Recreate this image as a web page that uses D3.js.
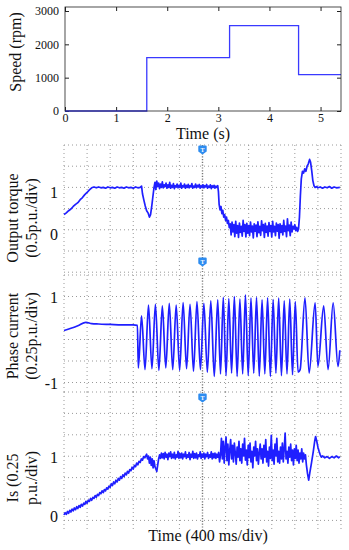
<!DOCTYPE html>
<html>
<head>
<meta charset="utf-8">
<script src="https://cdn.jsdelivr.net/npm/d3@7"></script>
<style>
  body { margin: 0; background: #fff; }
  svg { display: block; }
  text { font-family: "Liberation Serif", "DejaVu Serif", serif; fill: #111; }
</style>
</head>
<body>
<svg id="chart" width="349" height="550"></svg>
<script>
// ---- speed reference (top plot) ----
const speedTime = [0, 1.6, 3.22, 4.57, 5.4];
const speedRpm = [0, 1600, 2560, 1090, 1090];
const speedTicksX = [0, 1, 2, 3, 4, 5];
const speedTicksY = [0, 1000, 2000, 3000];

// ---- scope traces, time in divisions (400 ms/div) ----
const torqueTicks = [0, 1];
const phaseTicks = [-1, 1];
const isTicks = [0, 1];

const torqueTrace = [
  [0,0.36],[0.1,0.40],[0.2,0.45],[0.3,0.49],[0.4,0.55],[0.5,0.60],[0.6,0.64],[0.7,0.71],[0.8,0.76],[0.9,0.83],
  [1.0,0.88],[1.1,0.94],[1.2,0.99],[1.3,1.01],[1.4,0.99],[1.5,1.01],[1.6,0.99],[1.7,1.00],[1.8,0.98],[1.9,1.01],
  [2.0,0.99],[2.1,1.00],[2.2,0.98],[2.3,1.01],[2.4,0.99],[2.5,1.00],[2.6,0.98],[2.7,1.01],[2.8,0.99],[2.9,1.00],
  [3.0,0.98],[3.1,1.01],[3.2,0.99],[3.3,1.00],[3.36,1.03],[3.40,0.85],[3.46,0.70],[3.52,0.56],[3.58,0.45],[3.64,0.40],
  [3.70,0.30],[3.75,0.36],[3.80,0.55],[3.85,0.78],[3.90,1.00],[3.94,1.12],[3.98,0.95],[4.02,1.15],[4.06,1.02],[4.10,1.10],
  [4.14,0.97],[4.18,1.08],[4.22,1.00],[4.26,1.13],[4.30,0.99],[4.34,1.06],[4.38,1.02],[4.42,1.10],[4.46,0.98],[4.50,1.06],
  [4.54,1.00],[4.58,1.12],[4.62,0.98],[4.66,1.05],[4.70,1.00],[4.74,1.09],[4.78,0.97],[4.82,1.04],[4.86,1.01],[4.90,1.08],
  [4.94,0.99],[4.98,1.05],[5.02,1.00],[5.06,1.10],[5.10,0.98],[5.14,1.04],[5.18,1.01],[5.22,1.08],[5.26,0.98],[5.30,1.05],
  [5.34,1.00],[5.38,1.07],[5.42,0.99],[5.46,1.04],[5.50,1.01],[5.54,1.09],[5.58,0.98],[5.62,1.03],[5.66,1.00],[5.70,1.08],
  [5.74,0.99],[5.78,1.05],[5.82,1.01],[5.86,1.07],[5.90,0.98],[5.94,1.04],[5.98,1.00],[6.02,1.06],[6.06,0.99],[6.10,1.04],
  [6.14,1.01],[6.18,1.07],[6.22,0.98],[6.26,1.03],[6.30,1.00],[6.34,1.06],[6.38,0.97],[6.42,1.04],[6.46,1.00],[6.50,1.05],
  [6.54,0.98],[6.58,1.03],[6.62,1.00],[6.66,1.04],[6.69,0.90],[6.72,0.60],[6.76,0.47],[6.80,0.55],[6.84,0.38],[6.88,0.46],
  [6.92,0.30],[6.96,0.36],[7.00,0.22],[7.04,0.30],[7.08,0.15],[7.12,0.22],[7.16,0.05],[7.20,0.14],[7.24,-0.12],[7.28,0.18],
  [7.32,-0.05],[7.36,0.12],[7.40,-0.16],[7.44,0.20],[7.48,-0.08],[7.52,0.10],[7.56,-0.18],[7.60,0.16],[7.64,-0.06],[7.68,0.08],
  [7.72,-0.15],[7.76,0.22],[7.80,-0.04],[7.84,0.12],[7.88,-0.17],[7.92,0.15],[7.96,-0.08],[8.00,0.10],[8.04,-0.14],[8.08,0.18],
  [8.12,-0.05],[8.16,0.09],[8.20,-0.19],[8.24,0.14],[8.28,-0.03],[8.32,0.11],[8.36,-0.16],[8.40,0.19],[8.44,-0.07],[8.48,0.08],
  [8.52,-0.13],[8.56,0.21],[8.60,-0.02],[8.64,0.12],[8.68,-0.18],[8.72,0.15],[8.76,-0.06],[8.80,0.09],[8.84,-0.15],[8.88,0.17],
  [8.92,-0.04],[8.96,0.10],[9.00,-0.17],[9.04,0.20],[9.08,-0.05],[9.12,0.08],[9.16,-0.14],[9.20,0.16],[9.24,-0.03],[9.28,0.12],
  [9.32,-0.20],[9.36,0.14],[9.40,-0.06],[9.44,0.10],[9.48,-0.12],[9.52,0.22],[9.56,-0.04],[9.60,0.09],[9.64,-0.16],[9.68,0.26],
  [9.72,-0.02],[9.76,0.11],[9.80,-0.14],[9.84,0.18],[9.88,-0.05],[9.92,0.08],[9.96,0.02],[10.00,0.12],[10.04,-0.02],[10.08,0.06],
  [10.12,-0.04],[10.16,0.02],[10.20,0.30],[10.24,0.80],[10.28,1.20],[10.33,1.38],[10.38,1.34],[10.43,1.44],[10.48,1.38],[10.53,1.50],
  [10.58,1.55],[10.64,1.66],[10.68,1.60],[10.73,1.40],[10.78,1.16],[10.83,1.04],[10.88,1.00],[10.95,1.02],[11.0,0.99],[11.1,1.01],
  [11.2,0.98],[11.3,1.01],[11.4,0.99],[11.5,1.02],[11.6,0.98],[11.7,1.01],[11.8,0.99],[11.95,1.00]
];

// peaks and troughs of the phase current
const phaseTrace = [
  [0,0.21],[0.3,0.26],[0.6,0.32],[0.95,0.40],[1.2,0.37],[1.5,0.36],[2.0,0.35],[2.5,0.34],[3.0,0.34],[3.18,0.33],
  [3.22,-0.66],[3.36,0.55],[3.51,-0.70],[3.66,0.80],[3.81,-0.68],[3.96,0.82],[4.11,-0.72],[4.26,0.78],[4.41,-0.66],[4.56,0.84],
  [4.71,-0.70],[4.86,0.80],[5.01,-0.72],[5.16,0.86],[5.31,-0.68],[5.46,0.82],[5.61,-0.74],[5.76,0.88],[5.91,-0.70],[6.06,0.84],
  [6.21,-0.76],[6.36,0.90],[6.51,-0.86],[6.66,0.92],
  [6.78,-0.80],[6.90,0.98],[7.02,-0.84],[7.14,0.95],[7.26,-0.78],[7.38,1.00],[7.50,-0.86],[7.62,0.94],[7.74,-0.80],[7.86,1.04],
  [7.98,-0.84],[8.10,0.96],[8.22,-0.78],[8.34,0.98],[8.46,-0.85],[8.58,0.92],[8.70,-0.80],[8.82,0.97],[8.94,-0.86],[9.06,0.93],
  [9.18,-0.78],[9.30,0.96],[9.42,-0.84],[9.54,0.90],[9.66,-0.80],[9.78,0.94],[9.90,-0.82],[10.02,0.88],[10.14,-0.76],
  [10.23,-0.70],[10.44,0.97],[10.62,-0.78],[10.88,0.85],[11.0,-0.63],[11.25,0.78],[11.44,-0.70],[11.66,0.85],[11.87,-0.63],[11.95,-0.25]
];

const isTrace = [
  [0,0.0],[0.05,0.04],[0.1,0.01],[0.15,0.06],[0.2,0.03],[0.25,0.08],[0.3,0.05],[0.35,0.10],[0.4,0.07],[0.45,0.12],
  [0.5,0.09],[0.55,0.14],[0.6,0.11],[0.65,0.16],[0.7,0.13],[0.75,0.18],[0.8,0.15],[0.85,0.20],[0.9,0.18],[0.95,0.23],
  [1.0,0.20],[1.05,0.25],[1.1,0.23],[1.15,0.28],[1.2,0.25],[1.25,0.30],[1.3,0.28],[1.35,0.33],[1.4,0.30],[1.45,0.35],
  [1.5,0.33],[1.55,0.38],[1.6,0.36],[1.65,0.41],[1.7,0.38],[1.75,0.43],[1.8,0.41],[1.85,0.46],[1.9,0.44],[1.95,0.49],
  [2.0,0.47],[2.05,0.53],[2.1,0.50],[2.15,0.56],[2.2,0.53],[2.25,0.59],[2.3,0.56],[2.35,0.62],[2.4,0.59],[2.45,0.65],
  [2.5,0.62],[2.55,0.68],[2.6,0.65],[2.65,0.71],[2.7,0.68],[2.75,0.74],[2.8,0.71],[2.85,0.77],[2.9,0.75],[2.95,0.81],
  [3.0,0.78],[3.05,0.84],[3.1,0.82],[3.15,0.88],[3.2,0.85],[3.25,0.91],[3.3,0.89],[3.35,0.95],[3.4,0.93],[3.45,0.99],
  [3.5,0.97],[3.58,1.03],[3.62,0.95],[3.66,1.0],[3.70,0.88],
  [3.74,0.98],[3.78,0.84],[3.82,0.95],[3.86,0.80],[3.90,0.92],[3.94,0.82],[3.98,0.78],[4.02,0.74],[4.06,0.85],[4.10,0.95],
  [4.14,1.02],[4.18,0.96],[4.22,1.05],[4.26,0.97],[4.30,1.04],[4.34,0.95],[4.38,1.06],[4.42,0.98],[4.46,1.03],[4.50,0.94],
  [4.54,1.05],[4.58,0.99],[4.62,1.07],[4.66,0.96],[4.70,1.03],[4.74,0.97],[4.78,1.06],[4.82,0.95],[4.86,1.02],[4.90,0.98],
  [4.94,1.08],[4.98,0.96],[5.02,1.04],[5.06,0.97],[5.10,1.05],[5.14,0.95],[5.18,1.03],[5.22,0.99],[5.26,1.07],[5.30,0.96],
  [5.34,1.02],[5.38,0.98],[5.42,1.06],[5.46,0.94],[5.50,1.03],[5.54,0.98],[5.58,1.08],[5.62,0.96],[5.66,1.04],[5.70,0.97],
  [5.74,1.05],[5.78,0.95],[5.82,1.02],[5.86,0.99],[5.90,1.07],[5.94,0.96],[5.98,1.03],[6.02,0.98],[6.06,1.05],[6.10,0.95],
  [6.14,1.03],[6.18,0.99],[6.22,1.06],[6.26,0.96],[6.30,1.02],[6.34,0.98],[6.38,1.07],[6.42,0.95],[6.46,1.04],[6.50,0.97],
  [6.54,1.05],[6.58,0.96],[6.62,1.03],[6.66,0.98],[6.70,1.06],[6.74,0.90],[6.78,1.02],[6.82,1.30],[6.86,0.95],[6.90,1.25],
  [6.94,0.88],[6.98,1.15],[7.02,1.32],[7.06,0.92],[7.10,1.20],[7.14,0.85],[7.18,1.10],[7.22,1.28],[7.26,0.95],[7.30,1.18],
  [7.34,0.90],[7.38,1.22],[7.42,1.05],[7.46,0.86],[7.50,1.15],[7.54,0.98],[7.58,1.25],[7.62,0.92],[7.66,1.12],[7.70,0.88],
  [7.74,1.20],[7.78,1.00],[7.82,1.30],[7.86,0.93],[7.90,1.10],[7.94,0.85],[7.98,1.18],[8.02,0.97],[8.06,1.22],[8.10,0.90],
  [8.14,1.08],[8.18,0.80],[8.22,1.15],[8.26,1.00],[8.30,1.25],[8.34,0.92],[8.38,1.12],[8.42,0.86],[8.46,1.05],[8.50,1.20],
  [8.54,0.95],[8.58,1.12],[8.62,0.88],[8.66,1.18],[8.70,0.98],[8.74,1.28],[8.78,0.90],[8.82,1.08],[8.86,0.83],[8.90,1.15],
  [8.94,0.96],[8.98,1.35],[9.02,0.92],[9.06,1.10],[9.10,0.86],[9.14,1.20],[9.18,1.00],[9.22,1.30],[9.26,0.90],[9.30,1.08],
  [9.34,0.88],[9.38,1.15],[9.42,0.95],[9.46,1.22],[9.50,0.90],[9.54,1.12],[9.58,1.39],[9.62,0.95],[9.66,1.08],[9.70,0.88],
  [9.74,1.15],[9.78,0.98],[9.82,1.20],[9.86,0.92],[9.90,1.10],[9.94,0.85],[9.98,1.12],[10.02,0.96],[10.06,1.18],[10.10,0.92],
  [10.14,1.10],[10.18,0.88],[10.22,1.05],[10.26,0.95],[10.30,1.12],[10.34,0.90],[10.38,1.05],[10.42,0.95],[10.46,1.02],[10.50,0.85],
  [10.55,0.70],[10.60,0.59],[10.65,0.72],[10.72,0.88],[10.80,1.08],[10.86,1.25],[10.90,1.33],[10.95,1.25],[11.0,1.15],[11.05,1.08],
  [11.10,1.02],[11.15,0.98],[11.2,1.0],[11.3,0.97],[11.4,0.99],[11.5,0.96],[11.6,0.99],[11.7,0.97],[11.8,1.00],[11.9,0.97],[11.95,0.99]
];

const svg = d3.select("#chart");
const blue = "#1f1fff";

// ================= speed plot =================
const sx = d3.scaleLinear().domain([0, 5.4]).range([65, 341]);
const sy = d3.scaleLinear().domain([0, 3120]).range([111, 7]);

const speedG = svg.append("g").attr("class", "speed");

function cleanAxis(g) {
  g.select(".domain").remove();
  g.selectAll("line").attr("stroke", "#222");
  g.selectAll("text").attr("font-family", "Liberation Serif").attr("font-size", 12).attr("fill", "#111");
}

speedG.append("g").attr("transform", "translate(0,111)")
  .call(d3.axisBottom(sx).tickValues(speedTicksX).tickSize(-4).tickPadding(2).tickFormat(d3.format("d")))
  .call(cleanAxis);
speedG.append("g").attr("transform", "translate(0,7)")
  .call(d3.axisTop(sx).tickValues(speedTicksX).tickSize(-4).tickFormat(""))
  .call(cleanAxis);
speedG.append("g").attr("transform", "translate(65,0)")
  .call(d3.axisLeft(sy).tickValues(speedTicksY).tickSize(-4).tickPadding(6).tickFormat(d3.format("d")))
  .call(cleanAxis);
speedG.append("g").attr("transform", "translate(341,0)")
  .call(d3.axisRight(sy).tickValues(speedTicksY).tickSize(-4).tickFormat(""))
  .call(cleanAxis);

speedG.append("path")
  .datum(speedTime.map((t, i) => [t, speedRpm[i]]))
  .attr("fill", "none")
  .attr("stroke", "#3a3aff")
  .attr("stroke-width", 1.3)
  .attr("d", d3.line().curve(d3.curveStepAfter).x(d => sx(d[0])).y(d => sy(d[1])));

speedG.append("rect")
  .attr("x", 65).attr("y", 7).attr("width", 276).attr("height", 104)
  .attr("fill", "none").attr("stroke", "#222").attr("stroke-width", 0.8);

speedG.append("text")
  .attr("transform", "translate(21,52) rotate(-90)")
  .attr("text-anchor", "middle").attr("font-size", 16)
  .text("Speed (rpm)");
speedG.append("text")
  .attr("x", 203).attr("y", 139)
  .attr("text-anchor", "middle").attr("font-size", 16)
  .text("Time (s)");

// ================= oscilloscope panels =================
const tx = d3.scaleLinear().domain([0, 12]).range([64, 341]);
const divs = d3.range(13);

const panels = [
  { trace: torqueTrace, ticks: torqueTicks, y0: 145, rows: 6, rowH: 21.2, y1: 272,
    dom: [0, 1], rng: [229.8, 187.4], labelDy: 5, marker: 150, curve: d3.curveLinear,
    titles: ["Output torque", "(0.5p.u./div)"], titleY: 218 },
  { trace: phaseTrace, ticks: phaseTicks, y0: 275, rows: 5, rowH: 21.5, y1: 392,
    dom: [-1, 1], rng: [382.5, 296.5], labelDy: 1, marker: 262, curve: d3.curveMonotoneX,
    titles: ["Phase current", "(0.25p.u./div)"], titleY: 336 },
  { trace: isTrace, ticks: isTicks, y0: 392, rows: 6, rowH: 21.4, y1: 531,
    dom: [0, 1], rng: [515, 456], labelDy: 1, marker: 398, curve: d3.curveLinear,
    titles: ["Is (0.25", "p.u./div)"], titleY: 478 }
];

const scope = svg.append("g").attr("class", "scope");

panels.forEach(p => {
  const g = scope.append("g");
  const ty = d3.scaleLinear().domain(p.dom).range(p.rng);
  const rowY = d3.range(p.rows + 1).map(k => p.y0 + k * p.rowH);

  // dotted grid
  g.selectAll("line.v").data(divs).join("line")
    .attr("class", "v")
    .attr("x1", d => tx(d)).attr("x2", d => tx(d))
    .attr("y1", p.y0).attr("y2", p.y1)
    .attr("stroke", d => d === 6 ? "#777" : "#999")
    .attr("stroke-width", d => d === 6 ? 1.4 : 1)
    .attr("stroke-dasharray", d => d === 6 ? "1.2,1.6" : "1,3");
  g.selectAll("line.h").data(rowY).join("line")
    .attr("class", "h")
    .attr("x1", tx(0)).attr("x2", tx(12))
    .attr("y1", d => d).attr("y2", d => d)
    .attr("stroke", "#999")
    .attr("stroke-width", 1)
    .attr("stroke-dasharray", "1,3");

  // tick labels
  g.selectAll("text.tick").data(p.ticks).join("text")
    .attr("class", "tick")
    .attr("x", 58).attr("y", d => ty(d) + p.labelDy)
    .attr("dy", "0.35em")
    .attr("text-anchor", "end").attr("font-size", 16)
    .text(d => d);

  // axis titles (two lines)
  g.selectAll("text.title").data(p.titles).join("text")
    .attr("class", "title")
    .attr("transform", (d, i) => `translate(${i === 0 ? 18 : 37},${p.titleY}) rotate(-90)`)
    .attr("text-anchor", "middle").attr("font-size", 16)
    .text(d => d);

  // trace
  g.append("path")
    .datum(p.trace)
    .attr("fill", "none")
    .attr("stroke", blue)
    .attr("stroke-width", 1.7)
    .attr("stroke-linejoin", "round")
    .attr("d", d3.line().curve(p.curve).x(d => tx(d[0])).y(d => ty(d[1])));
});

// trigger markers
panels.forEach(p => {
  const m = scope.append("g").attr("transform", `translate(${tx(6)},${p.marker})`);
  m.append("path")
    .attr("d", "M-3.2,-4.5 h6.4 a1,1 0 0 1 1,1 v5 l-4.2,3 l-4.2,-3 v-5 a1,1 0 0 1 1,-1 z")
    .attr("fill", "#2d8cf0");
  m.append("text")
    .attr("y", 1.6).attr("text-anchor", "middle")
    .attr("font-family", "DejaVu Sans").attr("font-size", 6).attr("font-weight", "bold")
    .style("fill", "#fff")
    .text("T");
});

svg.append("text")
  .attr("x", 208).attr("y", 541)
  .attr("text-anchor", "middle").attr("font-size", 16)
  .text("Time (400 ms/div)");
</script>
</body>
</html>
